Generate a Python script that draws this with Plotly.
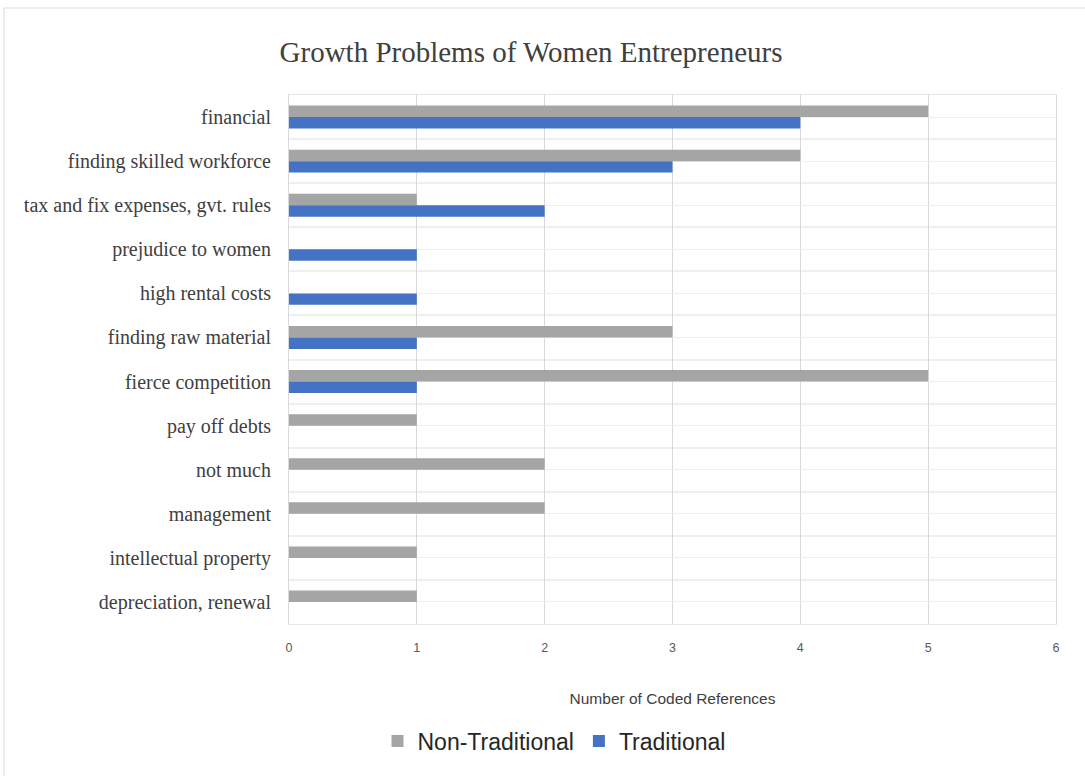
import plotly.graph_objects as go

categories = ["financial", "finding skilled workforce", "tax and fix expenses, gvt. rules",
              "prejudice to women", "high rental costs", "finding raw material",
              "fierce competition", "pay off debts", "not much", "management",
              "intellectual property", "depreciation, renewal"]
non_traditional = [5, 4, 1, 0, 0, 3, 5, 1, 2, 2, 1, 1]
traditional = [4, 3, 2, 1, 1, 1, 1, 0, 0, 0, 0, 0]
x_ticks = [0, 1, 2, 3, 4, 5, 6]

pos = list(range(len(categories)))

fig = go.Figure()
fig.add_trace(go.Bar(y=pos, x=non_traditional, orientation="h", name="Non-Traditional",
                     marker=dict(color="#a5a5a5", line=dict(width=0))))
fig.add_trace(go.Bar(y=pos, x=traditional, orientation="h", name="Traditional",
                     marker=dict(color="#4472c4", line=dict(width=0))))

L, R, T, B = 289, 1085 - 1056, 95, 776 - 624
W, H = 1085, 776
pw, ph = W - L - R, H - T - B

fig.update_layout(
    width=W, height=H,
    margin=dict(l=L, r=R, t=T, b=B),
    paper_bgcolor="white", plot_bgcolor="white",
    barmode="group", bargap=0.48, bargroupgap=0,
    title=dict(text="Growth Problems of Women Entrepreneurs", x=531 / W, xanchor="center",
               y=1 - 52 / H, yanchor="middle",
               font=dict(family="Liberation Serif", size=29, color="#404040")),
    xaxis=dict(range=[0, 6], tickvals=x_ticks, showgrid=True, gridcolor="#d9d9d9", gridwidth=1,
               zeroline=False, showline=True, mirror=True, linecolor="#e6e6e6", linewidth=1,
               tickfont=dict(family="Liberation Sans", size=12.5, color="#595959"),
               ticks="outside", ticklen=12, tickcolor="rgba(0,0,0,0)",
               title=dict(text="Number of Coded References", standoff=39,
                          font=dict(family="Liberation Sans", size=15.5, color="#404040"))),
    yaxis=dict(range=[len(categories) - 0.5, -0.5], tickvals=pos, ticktext=categories,
               showgrid=True, gridcolor="#efefef", gridwidth=1, zeroline=False,
               showline=True, mirror=True, linecolor="#d9d9d9", linewidth=1,
               minor=dict(tickvals=[i - 0.5 for i in range(len(categories) + 1)],
                          showgrid=True, gridcolor="#efefef", gridwidth=2, ticklen=0),
               tickfont=dict(family="Liberation Serif", size=20, color="#404040"),
               ticks="outside", ticklen=13, tickcolor="rgba(0,0,0,0)"),
    legend=dict(orientation="h", x=554 / W, xanchor="center", xref="container",
                y=1 - 741 / H, yref="container", yanchor="middle",
                font=dict(family="Liberation Sans", size=23, color="#262626"),
                traceorder="normal", itemwidth=30),
    showlegend=True,
)

fig.add_shape(type="rect", xref="paper", yref="paper",
              x0=(4 - L) / pw, x1=(1090 - L) / pw,
              y0=(624 - 780) / ph, y1=(624 - 8) / ph,
              line=dict(color="#d9d9d9", width=1), fillcolor="rgba(0,0,0,0)", layer="below")

fig.write_html("out.html")
